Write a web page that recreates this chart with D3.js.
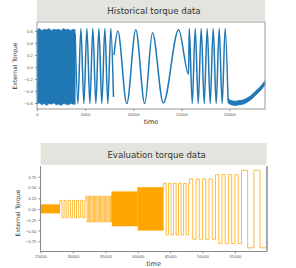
<!DOCTYPE html>
<html>
<head>
<meta charset="utf-8">
<script src="https://cdn.jsdelivr.net/npm/d3@7"></script>
<style>
  body { margin: 0; background: #fff; }
  svg { display: block; font-family: "DejaVu Sans", sans-serif; }
</style>
</head>
<body>
<div id="chart"></div>
<script>
// ---- historical torque data ----
// dense high frequency block 0..4000, upper / lower edge
var histDenseT   = [0, 250, 500, 750, 1000, 1250, 1500, 1750, 2000, 2250, 2500, 2750, 3000, 3250, 3500, 3750, 3970];
var histDenseTop = [0.62, 0.64, 0.61, 0.63, 0.62, 0.64, 0.61, 0.63, 0.62, 0.63, 0.61, 0.64, 0.62, 0.63, 0.61, 0.63, 0.62];
var histDenseBot = [-0.62, -0.60, -0.63, -0.61, -0.64, -0.61, -0.62, -0.60, -0.63, -0.62, -0.64, -0.61, -0.62, -0.63, -0.61, -0.62, -0.62];

// sine segments: peaks and troughs (null = break in the line)
var histWaveT = [3970, 4250, 4563, 4874, 5185, 5496, 5807, 6118, 6430, 6741, 7052, 7363, 7674, 7950, 7975,
                 8000, 8400, 9333, 10267, 11200, 12000, 13130, 14720, 15760,
                 15825, 16136, 16447, 16758, 17069, 17380, 17691, 18002, 18314, 18625, 18936, 19247, 19558, 19860];
var histWaveV = [0.55, -0.61, 0.64, -0.61, 0.64, -0.61, 0.64, -0.61, 0.64, -0.61, 0.64, -0.61, 0.64, -0.5, null,
                 0.2, 0.6, -0.61, 0.62, -0.61, 0.57, -0.6, 0.62, -0.12,
                 0.64, -0.61, 0.64, -0.61, 0.64, -0.61, 0.64, -0.61, 0.64, -0.61, 0.64, -0.61, 0.64, -0.56];

// slow noisy tail after 20000, upper / lower edge
var histTailT   = [19860, 20200, 20600, 21000, 21400, 21800, 22200, 22600, 23000, 23400, 23700];
var histTailTop = [-0.53, -0.56, -0.57, -0.56, -0.55, -0.52, -0.48, -0.42, -0.36, -0.29, -0.23];
var histTailBot = [-0.60, -0.63, -0.64, -0.63, -0.62, -0.59, -0.55, -0.49, -0.43, -0.36, -0.30];

var histXTicks = [0, 5000, 10000, 15000, 20000];
var histYTicks = [-0.6, -0.4, -0.2, 0.0, 0.2, 0.4, 0.6];

// ---- evaluation torque data: square wave blocks ----
var evalStart  = [25000, 28000, 32000, 36000, 40000, 44000, 48000, 52000, 56000];
var evalEnd    = [28000, 32000, 36000, 40000, 44000, 48000, 52000, 56000, 60000];
var evalAmp    = [0.1, 0.2, 0.3, 0.4, 0.5, 0.6, 0.7, 0.8, 0.9];
var evalHalfP  = [0, 320, 190, 0, 0, 385, 500, 500, 960];   // 0 = too dense, drawn solid

var evalXTicks = [25000, 30000, 35000, 40000, 45000, 50000, 55000];
var evalYTicks = [-0.75, -0.5, -0.25, 0.0, 0.25, 0.5, 0.75];

var W = 296, H = 268;
var svg = d3.select("#chart").append("svg").attr("width", W).attr("height", H);

var minus = function (s) { return s.replace("-", "\u2212"); };

function panel(opt) {
    var x = d3.scaleLinear().domain(opt.xd).range([opt.l, opt.r]);
    var y = d3.scaleLinear().domain(opt.yd).range([opt.b, opt.t]);

    // strip title
    svg.append("rect").attr("x", opt.l).attr("y", opt.st)
        .attr("width", opt.r - opt.l).attr("height", opt.t - opt.st - 1)
        .attr("fill", "#e4e4de");
    svg.append("text").attr("x", (opt.l + opt.r) / 2 + 3).attr("y", (opt.st + opt.t) / 2 + 3)
        .attr("text-anchor", "middle").attr("font-size", 8.6).attr("fill", "#333")
        .text(opt.title);

    var g = svg.append("g");
    var xa = d3.axisBottom(x).tickValues(opt.xt).tickSize(2).tickPadding(2)
        .tickFormat(d3.format("d"));
    var ya = d3.axisLeft(y).tickValues(opt.yt).tickSize(2).tickPadding(2)
        .tickFormat(function (d) { return minus(d3.format(opt.yf)(d)); });
    var gx = g.append("g").attr("transform", "translate(0," + opt.b + ")").call(xa);
    var gy = g.append("g").attr("transform", "translate(" + opt.l + ",0)").call(ya);
    [gx, gy].forEach(function (a) {
        a.select(".domain").remove();
        a.selectAll("line").attr("stroke", "#888");
        a.selectAll("text").attr("font-size", 4.3).attr("fill", "#555");
    });

    svg.append("text").attr("x", (opt.l + opt.r) / 2).attr("y", opt.b + 15)
        .attr("text-anchor", "middle").attr("font-size", 6.5).attr("fill", "#333").text("time");
    svg.append("text").attr("transform", "translate(" + opt.yl + "," + opt.ym + ") rotate(-90)")
        .attr("text-anchor", "middle").attr("font-size", 6).attr("fill", "#333").text("External Torque");
    return { x: x, y: y };
}

// ---------- top: historical ----------
var p1 = panel({ l: 37, r: 265, t: 22, b: 109, st: 0, xd: [0, 23700], yd: [-0.7, 0.75],
    xt: histXTicks, yt: histYTicks, yf: ".1f", title: "Historical torque data", yl: 17, ym: 66 });

var blue = "#1f77b4";
var band = d3.area().x(function (d) { return p1.x(d[0]); })
    .y0(function (d) { return p1.y(d[2]); }).y1(function (d) { return p1.y(d[1]); });
svg.append("path").datum(d3.zip(histDenseT, histDenseTop, histDenseBot))
    .attr("d", band).attr("fill", blue).attr("stroke", blue).attr("stroke-width", 0.6);

var wave = d3.line().defined(function (d) { return d[1] != null; })
    .x(function (d) { return p1.x(d[0]); }).y(function (d) { return p1.y(d[1]); })
    .curve(d3.curveMonotoneX);
svg.append("path").datum(d3.zip(histWaveT, histWaveV))
    .attr("d", wave).attr("fill", "none").attr("stroke", blue).attr("stroke-width", 1.5);

svg.append("path").datum(d3.zip(histTailT, histTailTop, histTailBot))
    .attr("d", band.curve(d3.curveMonotoneX)).attr("fill", blue).attr("stroke", blue).attr("stroke-width", 0.8);

// frame
svg.append("rect").attr("x", 37).attr("y", 22).attr("width", 228).attr("height", 87)
    .attr("fill", "none").attr("stroke", "#999").attr("stroke-width", 1);

// ---------- bottom: evaluation ----------
var p2 = panel({ l: 40.5, r: 266.7, t: 166, b: 251.3, st: 143, xd: [25000, 59900], yd: [-0.98, 1.0],
    xt: evalXTicks, yt: evalYTicks, yf: ".2f", title: "Evaluation torque data", yl: 20, ym: 213 });

var orange = "#ffa500";
svg.append("clipPath").attr("id", "c2").append("rect")
    .attr("x", 40.5).attr("y", 160).attr("width", 226.2).attr("height", 100);
var eg = svg.append("g").attr("clip-path", "url(#c2)");

var steps = [];
evalStart.forEach(function (s, i) {
    var a = evalAmp[i];
    if (evalHalfP[i] == 0) {
        eg.append("rect").attr("x", p2.x(s)).attr("y", p2.y(a))
            .attr("width", p2.x(evalEnd[i]) - p2.x(s)).attr("height", p2.y(-a) - p2.y(a))
            .attr("fill", orange);
        steps.push([s, a], [evalEnd[i], a]);
        return;
    }
    var sign = 1;
    for (var t = s; t < evalEnd[i] - 1; t += evalHalfP[i]) {
        var te = Math.min(t + evalHalfP[i], evalEnd[i]);
        steps.push([t, sign * a], [te, sign * a]);
        sign = -sign;
    }
});
var sq = d3.line().x(function (d) { return p2.x(d[0]); }).y(function (d) { return p2.y(d[1]); });
eg.append("path").datum(steps).attr("d", sq).attr("fill", "none")
    .attr("stroke", orange).attr("stroke-width", 0.9).attr("stroke-opacity", 0.85);

// spines
svg.append("line").attr("x1", 40.5).attr("x2", 40.5).attr("y1", 166).attr("y2", 251.3)
    .attr("stroke", "#888");
svg.append("line").attr("x1", 40.5).attr("x2", 266.7).attr("y1", 251.5).attr("y2", 251.5)
    .attr("stroke", "#888");
svg.append("line").attr("x1", 267).attr("x2", 267).attr("y1", 166).attr("y2", 251.5)
    .attr("stroke", "#aaa").attr("stroke-width", 2);
</script>
</body>
</html>
